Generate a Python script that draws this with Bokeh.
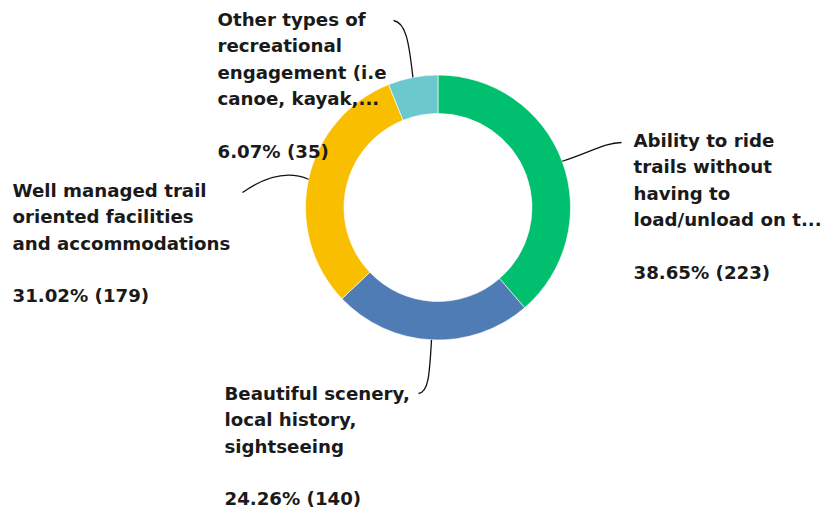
import math
from bokeh.plotting import figure
from bokeh.models import Range1d, ColumnDataSource
from bokeh.core.properties import value
from bokeh.embed import file_html
from bokeh.resources import INLINE

# ---- data ----
categories = [
    "Ability to ride trails without having to load/unload on t...",
    "Beautiful scenery, local history, sightseeing",
    "Well managed trail oriented facilities and accommodations",
    "Other types of recreational engagement (i.e canoe, kayak,...",
]
label_lines = [
    ["Ability to ride", "trails without", "having to", "load/unload on t..."],
    ["Beautiful scenery,", "local history,", "sightseeing"],
    ["Well managed trail", "oriented facilities", "and accommodations"],
    ["Other types of", "recreational", "engagement (i.e", "canoe, kayak,..."],
]
percents = [38.65, 24.26, 31.02, 6.07]
counts = [223, 140, 179, 35]
colors = ["#00BF6F", "#507CB6", "#F9BE00", "#6BC8CD"]

# ---- layout (page pixel coordinates) ----
W, H = 827, 513
def Y(py):
    return H - py

cx, cy = 437.5, 207
r_out, r_in = 132.5, 94
font = value("DejaVu Sans")
fsize = "18.2px"
line_gap = 26.3
# label anchor (left x, first line center y) and leader end point
label_pos = [(633, 140), (224, 393), (12, 190), (217, 19)]
leader_end = [(621, 142), (418, 393), (242, 192), (393, 20)]
# control point offsets (relative to start, relative to end)
ctrl = [
    ((28, -9), (-16, 0)),
    ((-2, 35), (10, -1)),
    ((-23, -10), (20, -14)),
    ((-4, -37), (12, 2)),
]

p = figure(width=W, height=H, output_backend="svg", toolbar_location=None,
           x_range=Range1d(0, W), y_range=Range1d(0, H), min_border=0)
p.axis.visible = False
p.grid.visible = False
p.outline_line_color = None
p.background_fill_color = "white"
p.border_fill_color = "white"

total = sum(percents)
starts, ends, mids = [], [], []
acc = 0.0
for v in percents:
    a0 = math.pi / 2 - 2 * math.pi * acc / total
    acc += v
    a1 = math.pi / 2 - 2 * math.pi * acc / total
    starts.append(a0)
    ends.append(a1)
    mids.append((a0 + a1) / 2)

src = ColumnDataSource(dict(start=starts, end=ends, color=colors, cat=categories))
p.annular_wedge(x=cx, y=Y(cy), inner_radius=r_in, outer_radius=r_out,
                start_angle="start", end_angle="end", direction="clock",
                fill_color="color", line_color="white", line_width=0.6, source=src)

# leader lines
for i, m in enumerate(mids):
    sx = cx + r_out * math.cos(m)
    sy = cy - r_out * math.sin(m)
    ex, ey = leader_end[i]
    (c0x, c0y), (c1x, c1y) = ctrl[i]
    p.bezier(x0=sx, y0=Y(sy), x1=ex, y1=Y(ey),
             cx0=sx + c0x, cy0=Y(sy + c0y), cx1=ex + c1x, cy1=Y(ey + c1y),
             line_color="#111111", line_width=1.3)

# labels
xs, ys, txt = [], [], []
for i, lines in enumerate(label_lines):
    lx, ly = label_pos[i]
    for j, t in enumerate(lines):
        xs.append(lx)
        ys.append(Y(ly + j * line_gap))
        txt.append(t)
    xs.append(lx)
    ys.append(Y(ly + (len(lines) + 1) * line_gap))
    txt.append(f"{percents[i]:.2f}% ({counts[i]})")

p.text(x=xs, y=ys, text=txt, text_font=font, text_font_size=fsize,
       text_font_style="bold", text_color="#1a1a1a",
       text_align="left", text_baseline="middle")

open("out.html", "w").write(file_html(p, INLINE))
